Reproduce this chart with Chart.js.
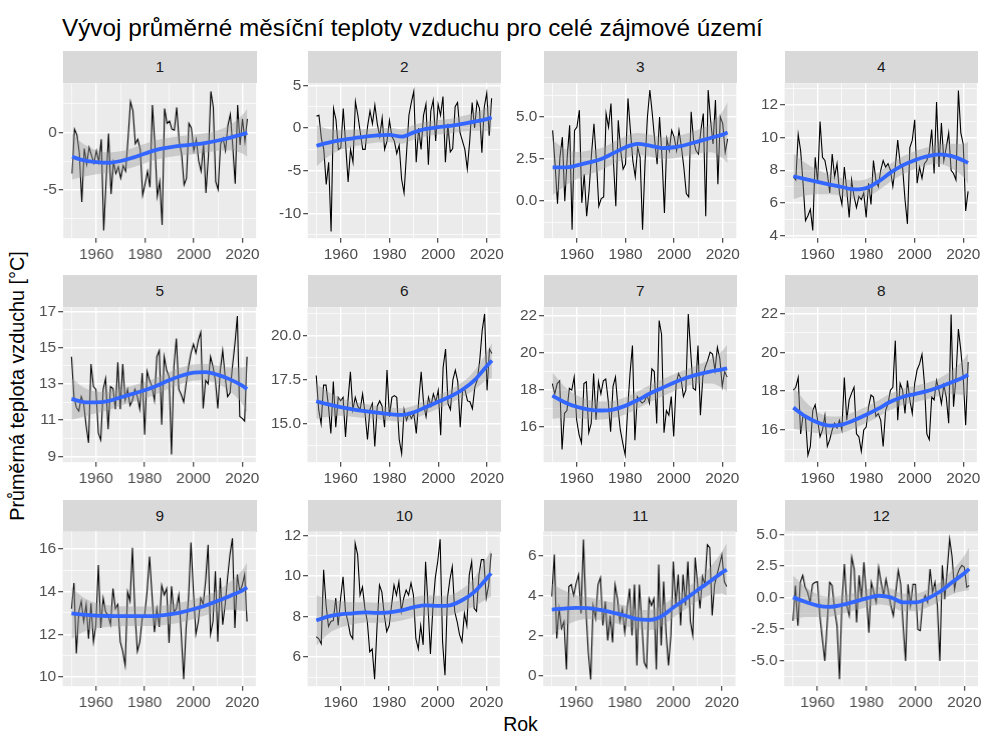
<!DOCTYPE html>
<html>
<head>
<meta charset="utf-8">
<script src="https://cdn.jsdelivr.net/npm/chart.js@4.4.1/dist/chart.umd.min.js"></script>
<style>
  body { margin: 0; background: #fff; font-family: "Liberation Sans", Arial, sans-serif; }
  #page { position: relative; width: 984px; height: 736px; overflow: hidden; }
  .wrap { position: absolute; }
  .strip { position: absolute; background: #d9d9d9; color: #1a1a1a; font-size: 15.4px; text-align: center; }
  #title { position: absolute; left: 62px; top: 16px; font-size: 24.3px; line-height: 1; color: #000; white-space: nowrap; }
  #xtitle { position: absolute; left: 0; width: 1041px; top: 715px; text-align: center; font-size: 19.5px; line-height: 1; }
  #ytitle { position: absolute; left: 18px; top: 386px; font-size: 19.8px; line-height: 1; white-space: nowrap;
            transform: translate(-50%, -50%) rotate(-90deg); }
</style>
</head>
<body>
<div id="page">
  <div id="title">Vývoj průměrné měsíční teploty vzduchu pro celé zájmové území</div>
  <div id="ytitle">Průměrná teplota vzduchu [°C]</div>
  <div id="xtitle">Rok</div>
</div>
<script>
// roky a měsíce
const years = [1950,1951,1952,1953,1954,1955,1956,1957,1958,1959,
  1960,1961,1962,1963,1964,1965,1966,1967,1968,1969,
  1970,1971,1972,1973,1974,1975,1976,1977,1978,1979,
  1980,1981,1982,1983,1984,1985,1986,1987,1988,1989,
  1990,1991,1992,1993,1994,1995,1996,1997,1998,1999,
  2000,2001,2002,2003,2004,2005,2006,2007,2008,2009,
  2010,2011,2012,2013,2014,2015,2016,2017,2018,2019,
  2020,2021,2022];
const months = ["1","2","3","4","5","6","7","8","9","10","11","12"];
const xGrid = [1950,1960,1970,1980,1990,2000,2010,2020];
const xLabels = [1960,1980,2000,2020];
const smoothYears = [1950,1955,1960,1965,1970,1975,1980,1985,1990,1995,2000,2005,2010,2015,2020,2022];

// měsíční průměry
const jan = [-3.6,0.3,-0.2,-1.8,-6.1,-1.4,-2.8,-1.3,-2.0,-2.7,
  -1.6,-2.6,-0.6,-8.6,-4.2,-0.1,-5.4,-2.6,-3.6,-3.0,
  -4.0,-2.9,-3.4,-0.5,2.7,1.9,-1.0,-0.6,-1.5,-5.5,
  -4.5,-3.4,-4.8,2.4,-1.0,-5.6,-4.3,-8.1,2.1,0.8,
  1.0,0.3,0.2,2.2,-0.8,-1.9,-4.6,-4.0,0.8,0.4,
  -1.6,-0.6,-2.5,-3.4,-1.0,-5.3,-2.0,3.6,2.2,-4.3,
  -5.0,-1.0,-0.5,-1.6,0.6,1.6,-1.2,-4.5,2.4,-1.1,
  1.2,-0.8,1.2];
const feb = [1.4,1.5,-1.2,-2.5,-6.6,-4.0,-12.1,2.3,1.0,-2.5,
  -2.3,2.3,-2.0,-6.3,-2.5,-4.0,3.1,1.5,-0.5,-2.5,
  -2.5,0.2,2.0,0.5,2.7,0.5,-1.0,1.2,-2.5,-1.5,
  0.9,-1.0,-1.5,-3.0,-2.0,-6.0,-7.6,-3.0,1.5,3.0,
  4.3,-4.0,0.0,-2.5,1.5,2.8,-4.3,2.0,3.3,-1.5,
  2.8,1.5,3.7,-4.0,0.5,-2.8,-2.4,2.5,3.0,-0.5,
  -1.5,-2.5,-4.8,-1.5,3.0,0.0,3.1,2.3,-2.9,2.5,
  4.1,-0.9,3.5];
const mar = [4.2,2.2,-0.15,2.6,3.8,0.0,2.6,4.5,-1.7,4.2,
  4.4,5.4,-0.1,1.6,-0.9,0.65,2.8,4.6,2.4,-0.3,
  0.15,0.25,5.2,4.4,5.8,2.4,-0.3,4.8,3.0,1.9,
  2.2,6.1,4.2,2.4,1.45,3.2,2.6,-1.7,2.2,5.0,
  6.6,5.2,3.6,2.2,5.0,2.6,-0.7,3.7,3.0,4.2,
  3.8,3.0,4.2,3.2,2.0,0.45,0.25,5.3,3.6,3.0,
  2.8,4.2,5.2,-0.9,6.6,4.8,3.4,6.0,1.0,5.0,
  4.6,2.9,3.7];
const apr = [7.6,7.4,10.2,9.2,7.2,4.9,5.2,5.6,4.3,8.8,
  7.2,11.0,8.8,8.6,7.8,6.6,9.0,7.6,8.4,6.6,
  5.9,8.2,6.8,5.1,7.4,6.4,5.7,6.4,6.2,6.6,
  5.1,7.2,5.9,8.6,7.4,7.0,8.0,8.6,8.2,8.4,
  8.0,7.0,8.2,9.85,8.4,8.2,6.2,4.7,9.4,9.85,
  11.1,7.2,8.2,7.5,8.4,8.6,9.1,10.5,7.8,12.2,
  8.2,10.9,8.6,9.4,10.3,8.0,7.8,7.4,12.9,10.3,
  9.6,5.5,6.7];
const may = [14.5,12.3,11.7,11.5,12.3,11.9,10.7,9.75,14.1,12.85,
  12.7,10.3,9.9,12.7,13.3,10.5,12.85,12.75,11.6,14.2,
  11.6,14.1,12.1,12.7,11.8,12.1,12.7,12.3,11.6,13.6,
  10.2,13.7,13.2,12.85,12.1,14.5,14.85,10.75,14.5,13.75,
  13.4,9.1,13.95,15.5,12.7,12.4,12.0,13.0,13.95,14.7,
  15.2,14.7,15.4,15.85,11.65,13.2,13.0,14.5,13.95,13.2,
  11.65,13.75,14.85,13.4,12.3,12.5,13.95,15.2,16.75,11.2,
  11.1,10.95,14.5];
const jun = [17.75,15.8,15.0,17.2,17.2,16.0,14.45,17.4,14.8,16.5,
  16.3,16.5,14.25,16.3,17.95,15.8,16.5,16.0,15.8,16.7,
  15.6,14.1,15.8,16.15,13.7,16.0,16.3,16.0,14.8,18.05,
  15.4,16.5,16.6,16.5,14.1,13.3,15.8,15.2,15.6,15.3,
  15.6,14.45,16.3,17.95,16.15,15.4,16.5,16.0,16.7,16.25,
  16.9,14.35,18.2,19.25,16.15,15.8,17.5,18.05,17.4,14.8,
  17.0,16.9,16.3,16.25,15.85,17.1,17.5,18.6,20.3,21.25,
  16.9,19.25,19.0];
const jul = [18.35,17.8,18.35,18.5,14.8,16.75,16.9,18.1,18.0,18.7,
  16.4,15.6,15.15,18.35,18.45,15.7,16.2,18.9,16.4,18.45,
  17.8,18.5,18.6,17.45,15.75,18.2,18.7,17.1,15.85,15.15,
  14.5,16.9,18.9,20.4,15.3,17.65,17.45,17.3,17.4,17.75,
  17.3,19.15,19.0,16.2,21.75,21.0,15.7,16.9,16.65,17.65,
  15.5,18.35,18.9,18.6,17.65,18.0,22.1,20.05,18.1,18.0,
  20.4,16.65,18.7,19.25,19.6,20.05,19.95,19.05,20.3,19.7,
  18.2,19.0,18.7];
const aug = [18.05,18.2,18.7,15.8,16.75,16.6,14.7,15.15,17.0,17.3,
  16.5,15.65,16.0,16.75,15.15,15.5,16.0,16.35,16.1,16.5,
  16.0,18.7,16.5,17.55,17.9,18.2,15.8,15.65,14.9,16.0,
  16.15,17.2,17.8,17.7,16.7,16.85,16.5,15.15,17.0,17.35,
  18.05,18.2,20.6,16.5,18.4,18.05,16.85,18.55,17.55,16.85,
  18.4,19.1,19.4,19.9,18.4,15.8,15.5,17.7,17.55,18.55,
  18.05,17.35,18.3,17.7,16.35,21.95,17.2,18.7,21.2,20.1,
  18.7,16.25,19.5];
const sep = [13.2,14.4,11.1,13.05,13.55,12.6,13.4,11.8,13.45,11.65,
  12.45,15.25,12.3,13.7,13.05,12.9,12.45,14.15,13.2,13.4,
  11.65,11.2,10.55,14.0,13.55,16.05,13.05,11.2,11.65,12.75,
  12.9,14.0,15.65,13.85,12.1,13.2,12.35,14.3,13.85,14.15,
  11.6,14.25,13.05,13.2,13.85,12.0,9.9,12.3,13.7,16.3,
  14.0,12.0,12.6,13.7,13.4,14.5,16.2,12.0,12.6,14.95,
  11.65,14.65,12.45,13.4,14.65,15.75,16.5,12.3,14.8,14.0,
  14.3,14.8,12.6];
const oct = [7.0,6.9,6.65,10.3,8.55,7.5,7.75,7.8,8.9,7.55,
  8.9,9.95,8.25,7.75,7.1,6.9,11.6,11.05,9.05,9.45,
  8.4,7.75,6.25,6.4,4.9,7.5,9.55,9.2,8.05,7.25,
  7.55,8.55,9.55,9.05,9.7,8.25,8.9,9.3,9.05,9.65,
  9.05,6.9,6.4,7.55,6.6,10.7,8.55,6.15,8.4,9.9,
  10.7,11.8,6.75,5.1,8.9,9.8,10.45,8.25,7.75,7.1,
  6.75,8.15,7.55,10.05,10.7,8.4,8.25,10.05,10.8,10.8,
  8.9,9.55,11.1];
const nov = [3.95,6.05,1.85,3.35,2.35,2.7,0.3,4.45,4.55,4.0,
  4.6,5.05,3.1,6.8,3.35,1.15,-0.2,3.5,2.85,4.55,
  4.9,2.5,3.7,1.75,3.0,1.65,4.55,3.85,2.7,3.35,
  2.15,3.35,4.35,2.0,4.55,0.5,4.55,2.7,0.65,0.4,
  3.85,3.5,3.85,0.3,5.55,1.5,4.7,2.15,0.5,2.0,
  5.7,3.5,5.05,2.5,5.05,3.5,5.7,2.7,2.0,5.9,
  4.55,3.35,4.95,4.55,6.55,6.4,3.0,4.55,5.05,5.55,
  6.05,4.7,4.45];
const dec = [-1.85,0.95,-2.25,1.2,1.75,0.8,0.4,-0.4,1.05,1.2,
  1.25,-1.45,-3.3,-5.05,-2.0,1.2,0.95,-0.95,-2.25,-6.5,
  -0.4,2.65,-0.65,-1.45,3.2,2.25,-2.0,1.75,-0.15,2.8,
  0.15,-2.8,1.2,0.4,-0.4,2.4,1.2,0.15,1.45,0.4,
  -0.65,-1.45,0.4,2.15,1.05,-2.25,-5.05,1.05,-0.65,1.05,
  1.05,-2.55,-2.65,-0.4,0.15,-0.4,2.25,0.4,1.2,-0.65,
  -5.05,2.55,-0.15,2.15,4.65,3.2,0.65,1.75,2.25,2.55,
  2.4,0.8,0.95];

// vyhlazení (loess) a polovina šířky intervalu spolehlivosti
const smoothJan = [-2.13,-2.45,-2.6,-2.65,-2.5,-2.2,-1.84,-1.5,-1.3,-1.15,-1.05,-0.9,-0.7,-0.45,-0.15,-0.03];
const smoothFeb = [-2.07,-1.7,-1.4,-1.2,-1.0,-0.85,-0.8,-1.0,-0.5,-0.1,0.1,0.25,0.5,0.75,1.05,1.25];
const smoothMar = [2.0,2.0,2.12,2.3,2.5,2.85,3.2,3.4,3.3,3.15,3.2,3.35,3.55,3.75,3.95,4.07];
const smoothApr = [7.63,7.45,7.28,7.12,6.97,6.82,6.9,7.3,7.85,8.3,8.62,8.85,8.98,8.88,8.6,8.45];
const smoothMay = [12.17,12.0,11.98,12.05,12.25,12.45,12.65,12.9,13.2,13.45,13.62,13.65,13.5,13.25,12.9,12.72];
const smoothJun = [16.28,16.1,15.95,15.82,15.72,15.63,15.55,15.5,15.65,15.95,16.25,16.55,16.95,17.5,18.3,18.6];
const smoothJul = [17.7,17.35,17.1,16.95,16.9,16.95,17.15,17.45,17.8,18.1,18.4,18.65,18.85,19.0,19.12,19.18];
const smoothAug = [17.15,16.7,16.38,16.22,16.28,16.5,16.78,17.1,17.45,17.7,17.85,18.0,18.2,18.45,18.7,18.85];
const smoothSep = [12.98,12.92,12.88,12.86,12.85,12.85,12.85,12.86,12.93,13.03,13.18,13.35,13.57,13.8,14.05,14.2];
const smoothOct = [7.8,8.0,8.1,8.15,8.2,8.18,8.2,8.3,8.45,8.55,8.52,8.55,8.8,9.2,9.85,10.13];
const smoothNov = [3.3,3.35,3.38,3.37,3.28,3.15,3.0,2.82,2.78,2.95,3.4,3.82,4.28,4.7,5.15,5.3];
const smoothDec = [0.0,-0.35,-0.65,-0.75,-0.6,-0.35,-0.08,0.13,0.0,-0.4,-0.4,-0.08,0.45,1.2,1.92,2.27];

const bandJan = [2.0,1.4,1.05,0.9,0.85,0.85,0.85,0.85,0.85,0.85,0.85,0.85,0.9,1.1,1.7,2.1];
const bandFeb = [2.4,1.6,1.15,1.0,0.9,0.85,0.85,0.85,0.85,0.85,0.85,0.85,0.9,1.05,1.4,1.7];
const bandMar = [1.65,1.1,0.8,0.7,0.65,0.65,0.65,0.65,0.65,0.65,0.65,0.65,0.7,0.85,1.4,1.8];
const bandApr = [1.4,1.0,0.75,0.6,0.55,0.55,0.55,0.55,0.55,0.55,0.55,0.55,0.6,0.75,1.0,1.3];
const bandMay = [1.15,0.8,0.6,0.5,0.45,0.45,0.45,0.45,0.45,0.45,0.45,0.45,0.5,0.65,1.0,1.3];
const bandJun = [1.0,0.7,0.5,0.42,0.4,0.38,0.38,0.38,0.38,0.38,0.38,0.38,0.42,0.55,0.8,1.0];
const bandJul = [1.25,0.85,0.62,0.52,0.48,0.46,0.46,0.46,0.46,0.46,0.46,0.46,0.5,0.65,1.0,1.25];
const bandAug = [1.1,0.75,0.55,0.47,0.43,0.42,0.42,0.42,0.42,0.42,0.42,0.42,0.45,0.6,0.9,1.1];
const bandSep = [1.2,0.8,0.6,0.5,0.47,0.46,0.46,0.46,0.46,0.46,0.46,0.46,0.5,0.65,0.95,1.15];
const bandOct = [1.25,0.85,0.65,0.55,0.5,0.5,0.5,0.5,0.5,0.5,0.5,0.5,0.55,0.7,1.0,1.15];
const bandNov = [1.3,0.9,0.65,0.55,0.5,0.5,0.5,0.5,0.5,0.5,0.5,0.5,0.55,0.7,1.05,1.3];
const bandDec = [1.75,1.2,0.9,0.78,0.72,0.7,0.7,0.7,0.7,0.7,0.7,0.7,0.75,0.95,1.4,1.7];

// osy y (volné pro každý panel)
const yMin = [-9.27,-12.9,-2.2,3.82,8.68,12.81,14.11,14.34,9.57,4.56,-0.54,-7.06];
const yMax = [4.32,5.25,7.0,13.35,17.23,21.63,22.47,22.32,16.83,12.2,7.22,5.26];
const yBreaks = [[-5,0],[-10,-5,0,5],[0,2.5,5],[4,6,8,10,12],[9,11,13,15,17],[15,17.5,20],
  [16,18,20,22],[16,18,20,22],[10,12,14,16],[6,8,10,12],[0,2,4,6],[-5,-2.5,0,2.5,5]];
const yBreakLabels = [["-5","0"],["-10","-5","0","5"],["0.0","2.5","5.0"],["4","6","8","10","12"],
  ["9","11","13","15","17"],["15.0","17.5","20.0"],["16","18","20","22"],["16","18","20","22"],
  ["10","12","14","16"],["6","8","10","12"],["0","2","4","6"],["-5.0","-2.5","0.0","2.5","5.0"]];
const yMinor = [[-7.5,-2.5,2.5],[-12.5,-7.5,-2.5,2.5],[-1.25,1.25,3.75,6.25],[5,7,9,11,13],
  [10,12,14,16],[13.75,16.25,18.75,21.25],[15,17,19,21],[15,17,19,21],[11,13,15],[5,7,9,11],
  [1,3,5,7],[-6.25,-3.75,-1.25,1.25,3.75]];

const series = [jan,feb,mar,apr,may,jun,jul,aug,sep,oct,nov,dec];
const smooths = [smoothJan,smoothFeb,smoothMar,smoothApr,smoothMay,smoothJun,smoothJul,smoothAug,smoothSep,smoothOct,smoothNov,smoothDec];
const bands = [bandJan,bandFeb,bandMar,bandApr,bandMay,bandJun,bandJul,bandAug,bandSep,bandOct,bandNov,bandDec];

// rozvržení
const colLeft = [63, 307.5, 543.5, 784.5];
const rowTop = [83, 307, 531.5];
const panelW = 193.5, panelH = 155, stripH = 32;

Chart.defaults.font.family = '"Liberation Sans", Arial, sans-serif';
Chart.defaults.animation = false;

const panelBg = {
  id: 'panelBg',
  beforeDraw(chart) {
    const a = chart.chartArea, c = chart.ctx;
    c.save();
    c.fillStyle = '#ebebeb';
    c.fillRect(a.left, a.top, a.right - a.left, a.bottom - a.top);
    c.restore();
  }
};

const page = document.getElementById('page');
const tickFont = { size: 15.4 };

months.forEach((m, i) => {
  const col = i % 4, row = Math.floor(i / 4);
  const tx = colLeft[col], ty = rowTop[row];

  const strip = document.createElement('div');
  strip.className = 'strip';
  strip.style.left = tx + 'px';
  strip.style.top = (ty - stripH) + 'px';
  strip.style.width = panelW + 'px';
  strip.style.height = stripH + 'px';
  strip.style.lineHeight = stripH + 'px';
  strip.textContent = m;
  page.appendChild(strip);

  const wrap = document.createElement('div');
  wrap.className = 'wrap';
  wrap.style.left = (tx - 50) + 'px';
  wrap.style.top = (ty - 10) + 'px';
  wrap.style.width = (panelW + 55) + 'px';
  wrap.style.height = (panelH + 45) + 'px';
  const cv = document.createElement('canvas');
  wrap.appendChild(cv);
  page.appendChild(wrap);

  const sm = smooths[i], bd = bands[i];
  const yTicks = yBreaks[i].concat(yMinor[i]).sort((a, b) => a - b);
  const isMajorY = v => yBreaks[i].includes(v);

  const chart = new Chart(cv, {
    type: 'line',
    data: {
      datasets: [
        { data: smoothYears.map((x, k) => ({ x, y: sm[k] })), borderColor: '#3366ff', borderWidth: 3.8,
          pointRadius: 0, cubicInterpolationMode: 'monotone', fill: false },
        { data: smoothYears.map((x, k) => ({ x, y: sm[k] + bd[k] })), borderWidth: 0, pointRadius: 0,
          cubicInterpolationMode: 'monotone', fill: '+1', backgroundColor: 'rgba(153,153,153,0.4)' },
        { data: smoothYears.map((x, k) => ({ x, y: sm[k] - bd[k] })), borderWidth: 0, pointRadius: 0,
          cubicInterpolationMode: 'monotone', fill: false },
        { data: years.map((x, k) => ({ x, y: series[i][k] })), borderColor: '#000', borderWidth: 1.1,
          pointRadius: 0, tension: 0, fill: false }
      ]
    },
    options: {
      responsive: true,
      maintainAspectRatio: false,
      layout: { padding: 0 },
      plugins: { legend: { display: false }, tooltip: { enabled: false } },
      scales: {
        x: {
          type: 'linear', min: 1946.4, max: 2025.6,
          afterBuildTicks: s => { s.ticks = xGrid.map(v => ({ value: v })); },
          ticks: { autoSkip: false, maxRotation: 0, padding: 3, color: '#4d4d4d', font: tickFont,
                   callback: v => xLabels.includes(v) ? String(v) : '' },
          grid: { color: '#ffffff',
                  lineWidth: c => (c.tick && xLabels.includes(c.tick.value)) ? 1.4 : 0.7,
                  tickColor: c => (c.tick && xLabels.includes(c.tick.value)) ? '#333333' : 'rgba(0,0,0,0)',
                  tickWidth: 1.1, tickLength: 4.5 },
          border: { display: false }
        },
        y: {
          type: 'linear', min: yMin[i], max: yMax[i],
          afterBuildTicks: s => { s.ticks = yTicks.map(v => ({ value: v })); },
          ticks: { autoSkip: false, padding: 2, color: '#4d4d4d', font: tickFont,
                   callback: v => { const k = yBreaks[i].indexOf(v); return k >= 0 ? yBreakLabels[i][k] : ''; } },
          grid: { color: '#ffffff',
                  lineWidth: c => (c.tick && isMajorY(c.tick.value)) ? 1.4 : 0.7,
                  tickColor: c => (c.tick && isMajorY(c.tick.value)) ? '#333333' : 'rgba(0,0,0,0)',
                  tickWidth: 1.1, tickLength: 4.5 },
          border: { display: false }
        }
      }
    },
    plugins: [panelBg]
  });

  // dorovnat plochu grafu na přesnou pozici panelu
  let a = chart.chartArea;
  const w = wrap.clientWidth + (panelW - (a.right - a.left));
  const h = wrap.clientHeight + (panelH - (a.bottom - a.top));
  wrap.style.width = w + 'px';
  wrap.style.height = h + 'px';
  chart.resize();
  a = chart.chartArea;
  wrap.style.left = (tx - a.left) + 'px';
  wrap.style.top = (ty - a.top) + 'px';
});
</script>
</body>
</html>
